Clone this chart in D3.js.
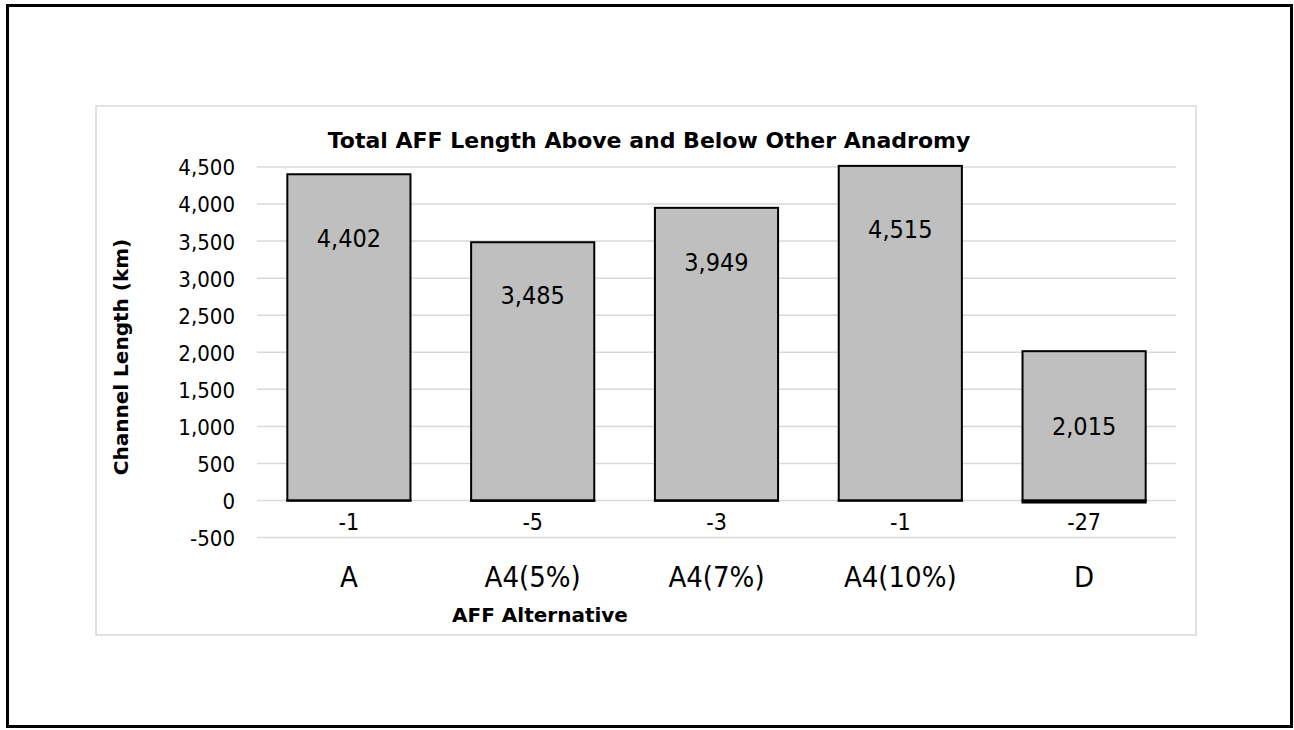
<!DOCTYPE html>
<html>
<head>
<meta charset="utf-8">
<script src="https://cdn.jsdelivr.net/npm/d3@7"></script>
<style>
  body { margin: 0; background: #fff; }
  text { font-family: "DejaVu Sans Condensed", "DejaVu Sans", sans-serif; fill: #000; }
  .bold { font-family: "DejaVu Sans", sans-serif; font-weight: bold; }
</style>
</head>
<body>
<div id="chart"></div>
<script>
// chart values
var categories = ["A", "A4(5%)", "A4(7%)", "A4(10%)", "D"];
var aboveValues = [4402, 3485, 3949, 4515, 2015];
var belowValues = [-1, -5, -3, -1, -27];
var yTicks = [-500, 0, 500, 1000, 1500, 2000, 2500, 3000, 3500, 4000, 4500];

// how far each "above" label sits under the top of its bar (px)
var labelDrop = [64, 53, 54, 63, 75];

// plain hyphen for negatives, like the original
var fmt = d3.formatLocale({decimal: ".", thousands: ",", grouping: [3], currency: ["$", ""], minus: "-"}).format(",");

var W = 1294, H = 730;

var svg = d3.select("#chart").append("svg")
  .attr("width", W)
  .attr("height", H);

svg.append("rect")
  .attr("width", W).attr("height", H)
  .attr("fill", "#fff");

// outer black frame
svg.append("rect")
  .attr("x", 7.5).attr("y", 5.5)
  .attr("width", 1284).attr("height", 721)
  .attr("fill", "none")
  .attr("stroke", "#000")
  .attr("stroke-width", 3);

// chart area border
svg.append("rect")
  .attr("x", 96).attr("y", 106)
  .attr("width", 1100).attr("height", 529)
  .attr("fill", "#fff")
  .attr("stroke", "#d9d9d9")
  .attr("stroke-width", 1.5);

var plot = {left: 257, right: 1176};

var x = d3.scaleBand()
  .domain(categories)
  .range([plot.left, plot.right])
  .paddingInner(0.33)
  .paddingOuter(0.165);

var y = d3.scaleLinear()
  .domain([-500, 4500])
  .range([537.6, 167]);

// gridlines
svg.append("g")
  .selectAll("line")
  .data(yTicks)
  .enter().append("line")
  .attr("x1", plot.left)
  .attr("x2", plot.right)
  .attr("y1", function (d) { return y(d); })
  .attr("y2", function (d) { return y(d); })
  .attr("stroke", "#d9d9d9")
  .attr("stroke-width", 1.5);

// y axis labels
var yAxis = d3.axisLeft(y)
  .tickValues(yTicks)
  .tickSize(0)
  .tickPadding(0)
  .tickFormat(fmt);

svg.append("g")
  .attr("transform", "translate(235,0)")
  .call(yAxis)
  .call(function (g) { g.select(".domain").remove(); })
  .selectAll("text")
  .style("font-family", "\"DejaVu Sans Condensed\", \"DejaVu Sans\", sans-serif")
  .style("font-size", "22px")
  .attr("fill", "#000")
  .attr("dy", "0.36em");

// bars above zero
svg.append("g")
  .selectAll("rect")
  .data(aboveValues)
  .enter().append("rect")
  .attr("x", function (d, i) { return x(categories[i]); })
  .attr("width", x.bandwidth())
  .attr("y", function (d) { return y(d); })
  .attr("height", function (d) { return y(0) - y(d); })
  .attr("fill", "#bfbfbf")
  .attr("stroke", "#000")
  .attr("stroke-width", 2);

// bars below zero
svg.append("g")
  .selectAll("rect")
  .data(belowValues)
  .enter().append("rect")
  .attr("x", function (d, i) { return x(categories[i]); })
  .attr("width", x.bandwidth())
  .attr("y", y(0))
  .attr("height", function (d) { return y(d) - y(0); })
  .attr("fill", "#bfbfbf")
  .attr("stroke", "#000")
  .attr("stroke-width", 2);

// value labels
svg.append("g")
  .selectAll("text")
  .data(aboveValues)
  .enter().append("text")
  .attr("x", function (d, i) { return x(categories[i]) + x.bandwidth() / 2; })
  .attr("y", function (d, i) { return y(d) + labelDrop[i]; })
  .attr("dy", "0.36em")
  .attr("text-anchor", "middle")
  .style("font-size", "25px")
  .text(fmt);

svg.append("g")
  .selectAll("text")
  .data(belowValues)
  .enter().append("text")
  .attr("x", function (d, i) { return x(categories[i]) + x.bandwidth() / 2; })
  .attr("y", y(0) + 21)
  .attr("dy", "0.36em")
  .attr("text-anchor", "middle")
  .style("font-size", "23px")
  .text(fmt);

// category labels
var xAxis = d3.axisBottom(x).tickSize(0).tickPadding(0);

svg.append("g")
  .attr("transform", "translate(0,577)")
  .call(xAxis)
  .call(function (g) { g.select(".domain").remove(); })
  .selectAll("text")
  .style("font-family", "\"DejaVu Sans Condensed\", \"DejaVu Sans\", sans-serif")
  .style("font-size", "29px")
  .attr("fill", "#000")
  .attr("y", 0)
  .attr("dy", "0.36em");

// titles
svg.append("text")
  .attr("class", "bold")
  .attr("x", 649).attr("y", 148)
  .attr("text-anchor", "middle")
  .style("font-size", "22px")
  .text("Total AFF Length Above and Below Other Anadromy");

svg.append("text")
  .attr("class", "bold")
  .attr("x", 540).attr("y", 622)
  .attr("text-anchor", "middle")
  .style("font-size", "20px")
  .text("AFF Alternative");

svg.append("text")
  .attr("class", "bold")
  .attr("transform", "translate(128,357) rotate(-90)")
  .attr("text-anchor", "middle")
  .style("font-size", "20px")
  .text("Channel Length (km)");
</script>
</body>
</html>
